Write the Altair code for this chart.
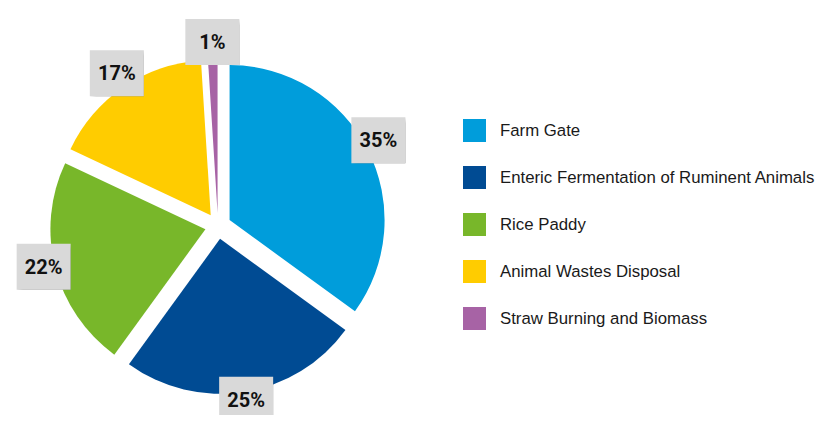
import altair as alt
import pandas as pd

categories = [
    "Farm Gate",
    "Enteric Fermentation of Ruminent Animals",
    "Rice Paddy",
    "Animal Wastes Disposal",
    "Straw Burning and Biomass",
]
values = [35, 25, 22, 17, 1]
labels = ["35%", "25%", "22%", "17%", "1%"]
colors = ["#009ddb", "#004b93", "#78b72a", "#ffcc00", "#a763a5"]

df = pd.DataFrame({"category": categories, "value": values, "label": labels, "order": list(range(len(values)))})

CX, CY = 210, 218      # pie centre in svg pixels
R = 155                # pie radius
EXPLODE = 13           # slice explosion
LR = 180               # label radius
BW, BH = 27, 23        # half box size

base = (
    alt.Chart(df)
    .transform_window(cum="sum(value)", sort=[{"field": "order"}], frame=[None, 0])
    .transform_joinaggregate(total="sum(value)")
    .transform_calculate(
        start="2*PI*(datum.cum - datum.value)/datum.total",
        end="2*PI*datum.cum/datum.total",
    )
    .transform_calculate(mid="(datum.start + datum.end)/2")
    .transform_calculate(
        cx=f"{CX} + {EXPLODE}*sin(datum.mid)",
        cy=f"{CY} - {EXPLODE}*cos(datum.mid)",
        lx=f"{CX} + {LR}*sin(datum.mid)",
        ly=f"{CY} - 4 - {LR}*cos(datum.mid)",
    )
    .transform_calculate(
        bx1=f"datum.lx - {BW}", bx2=f"datum.lx + {BW}",
        by1=f"datum.ly - {BH}", by2=f"datum.ly + {BH}",
    )
)

arcs = base.mark_arc(radius=R).encode(
    theta=alt.Theta("start:Q", scale=None, stack=False),
    theta2="end:Q",
    x=alt.X("cx:Q", scale=None),
    y=alt.Y("cy:Q", scale=None),
    color=alt.Color(
        "category:N",
        scale=alt.Scale(domain=categories, range=colors),
        legend=alt.Legend(
            title=None,
            orient="none",
            legendX=455,
            legendY=111,
            symbolType="square",
            symbolSize=529,
            symbolStrokeWidth=0,
            symbolOpacity=1,
            labelFontSize=16.8,
            labelFont="Liberation Sans",
            labelColor="#1a1a1a",
            rowPadding=24,
            labelOffset=14,
            padding=0,
            labelLimit=400,
        ),
    ),
)

box_enc = dict(
    x=alt.X("bx1:Q", scale=None),
    x2="bx2:Q",
    y=alt.Y("by1:Q", scale=None),
    y2="by2:Q",
)

shadows = [
    base.mark_rect(color="#000000", opacity=0.09, xOffset=o, yOffset=o).encode(**box_enc)
    for o in (1, 2, 3, 4, 5, 6)
]

boxes = base.mark_rect(color="#d9d9d9").encode(**box_enc)

texts = base.mark_text(
    font="Roboto",
    fontSize=20,
    fontWeight="bold",
    color="#111111",
    align="center",
    baseline="middle",
    dy=1,
).encode(
    x=alt.X("lx:Q", scale=None),
    y=alt.Y("ly:Q", scale=None),
    text="label:N",
)

chart = (
    alt.layer(arcs, *shadows, boxes, texts)
    .properties(
        width=817,
        height=407,
        autosize=alt.AutoSizeParams(type="none"),
        padding=0,
    )
    .configure_view(stroke=None)
)

chart.save("out.html", embed_options={"renderer": "svg", "actions": False})
